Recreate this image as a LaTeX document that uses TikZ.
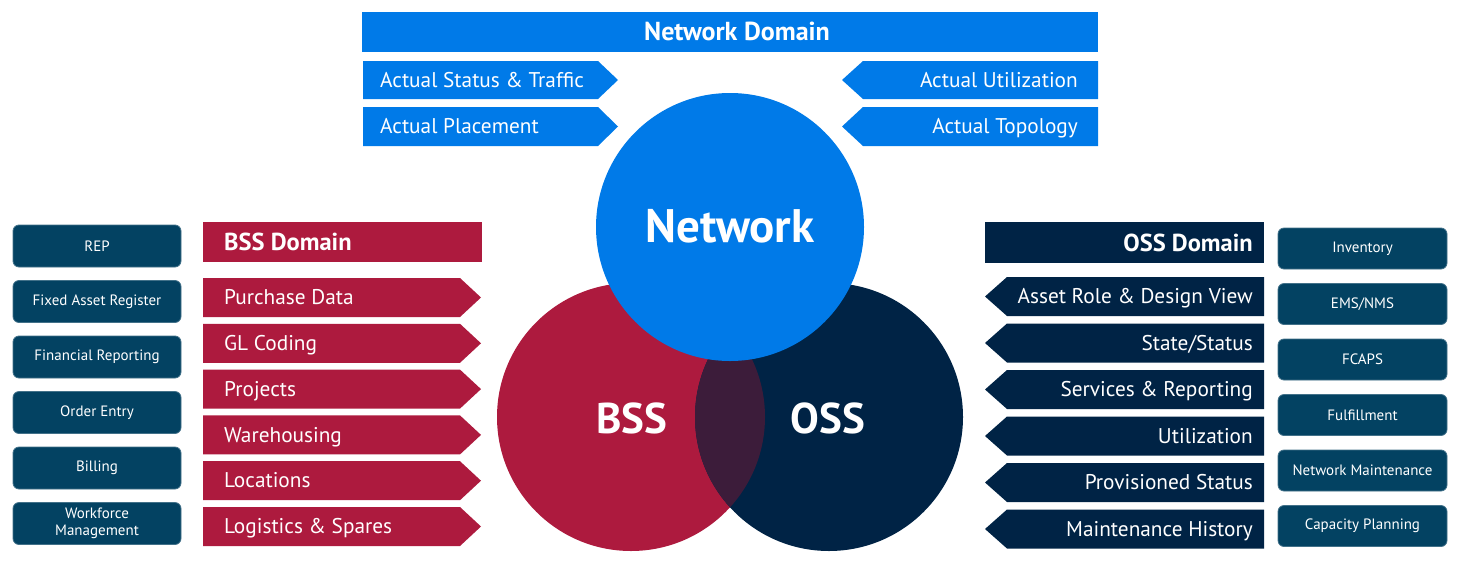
\documentclass[tikz,border=0pt]{standalone}
\usepackage{fontspec}
\setmainfont{PT Sans}
\definecolor{netblue}{HTML}{007AE8}
\definecolor{bssred}{HTML}{AD1A3E}
\definecolor{ossnavy}{HTML}{002345}
\definecolor{boxteal}{HTML}{034262}
\definecolor{lenscol}{HTML}{3C1C3A}
\tikzset{
  lbl/.style={text=white, inner sep=0pt, text height=18.5pt, text depth=4pt, font=\fontsize{21.3}{24}\selectfont},
  hdr/.style={text=white, inner sep=0pt, text height=21pt, text depth=4pt, font=\fontsize{24.5}{28}\selectfont\bfseries},
  sysbox/.style={fill=boxteal, draw=boxteal!75!white, line width=0.8pt, rounded corners=6pt,
     text=white, align=center, font=\fontsize{15}{17}\selectfont, inner sep=0pt},
  big/.style={text=white, font=\fontsize{43}{48}\selectfont\bfseries, inner sep=0pt, text height=31pt, text depth=0pt}
}
\begin{document}
\begin{tikzpicture}[x=1pt,y=-1pt]
\useasboundingbox (0,0) rectangle (1457,579);
% Venn circles
\fill[bssred] (631,417) circle[radius=134pt];
\fill[ossnavy] (829,417) circle[radius=134pt];
\begin{scope}
  \clip (631,417) circle[radius=134pt];
  \fill[lenscol] (829,417) circle[radius=134pt];
\end{scope}
\fill[netblue] (730,227) circle[radius=134pt];
\node[big, font=\fontsize{47}{52}\selectfont\bfseries, text height=34pt] (net) at (730,225.5) {Network};
\node[big] (bss) at (632,417.5) {BSS};
\node[big] (oss) at (828,417.5) {OSS};

% Network domain
\fill[netblue] (362,12) rectangle (1098,52);
\node[hdr, font=\fontsize{26}{30}\selectfont\bfseries] (netdom) at (737,32) {Network Domain};
\fill[netblue] (363,61) -- (598,61) -- (618,80) -- (598,99) -- (363,99) -- cycle;
\node[lbl, anchor=west] (ast) at (380,80) {Actual Status \& Traffic};
\fill[netblue] (363,107) -- (598,107) -- (618,126.5) -- (598,146) -- (363,146) -- cycle;
\node[lbl, anchor=west] (apl) at (380,126.5) {Actual Placement};
\fill[netblue] (1098,61) -- (863,61) -- (842,80) -- (863,99) -- (1098,99) -- cycle;
\node[lbl, anchor=east] (aut) at (1078,80) {Actual Utilization};
\fill[netblue] (1098,107) -- (863,107) -- (842,126.5) -- (863,146) -- (1098,146) -- cycle;
\node[lbl, anchor=east] (ato) at (1078,126.5) {Actual Topology};

% BSS domain
\fill[bssred] (203,222) rectangle (482,262);
\node[hdr, anchor=west] (bssdom) at (224,242) {BSS Domain};
\foreach \t [count=\i from 0] in {Purchase Data, GL Coding, Projects, Warehousing, Locations, Logistics \& Spares}{
  \pgfmathsetmacro{\ya}{278+45.8*\i}
  \fill[bssred] (203,\ya) -- (460,\ya) -- (481,\ya+19.5) -- (460,\ya+39) -- (203,\ya+39) -- cycle;
  \node[lbl, anchor=west] (bss\i) at (224,\ya+19.5) {\t};
}

% OSS domain
\fill[ossnavy] (985,222) rectangle (1264,263);
\node[hdr, anchor=east] (ossdom) at (1253,242.5) {OSS Domain};
\foreach \t [count=\i from 0] in {Asset Role \& Design View, State/Status, Services \& Reporting, Utilization, Provisioned Status, Maintenance History}{
  \pgfmathsetmacro{\ya}{277+46.5*\i}
  \fill[ossnavy] (1264,\ya) -- (1007,\ya) -- (985,\ya+19.5) -- (1007,\ya+39) -- (1264,\ya+39) -- cycle;
  \node[lbl, anchor=east] (oss\i) at (1253,\ya+19.5) {\t};
}

% left systems
\foreach \t [count=\i from 0] in {REP, Fixed Asset Register, Financial Reporting, Order Entry, Billing, {Workforce\\Management}}{
  \pgfmathsetmacro{\ya}{246+55.5*\i}
  \node[sysbox, minimum width=168pt, minimum height=42pt] (ls\i) at (97,\ya) {\t};
}
% right systems
\foreach \t [count=\i from 0] in {Inventory, EMS/NMS, FCAPS, Fulfillment, Network Maintenance, Capacity Planning}{
  \pgfmathsetmacro{\ya}{248.5+55.5*\i}
  \node[sysbox, minimum width=169pt, minimum height=41pt] (rs\i) at (1362.5,\ya) {\t};
}
\end{tikzpicture}
\end{document}
